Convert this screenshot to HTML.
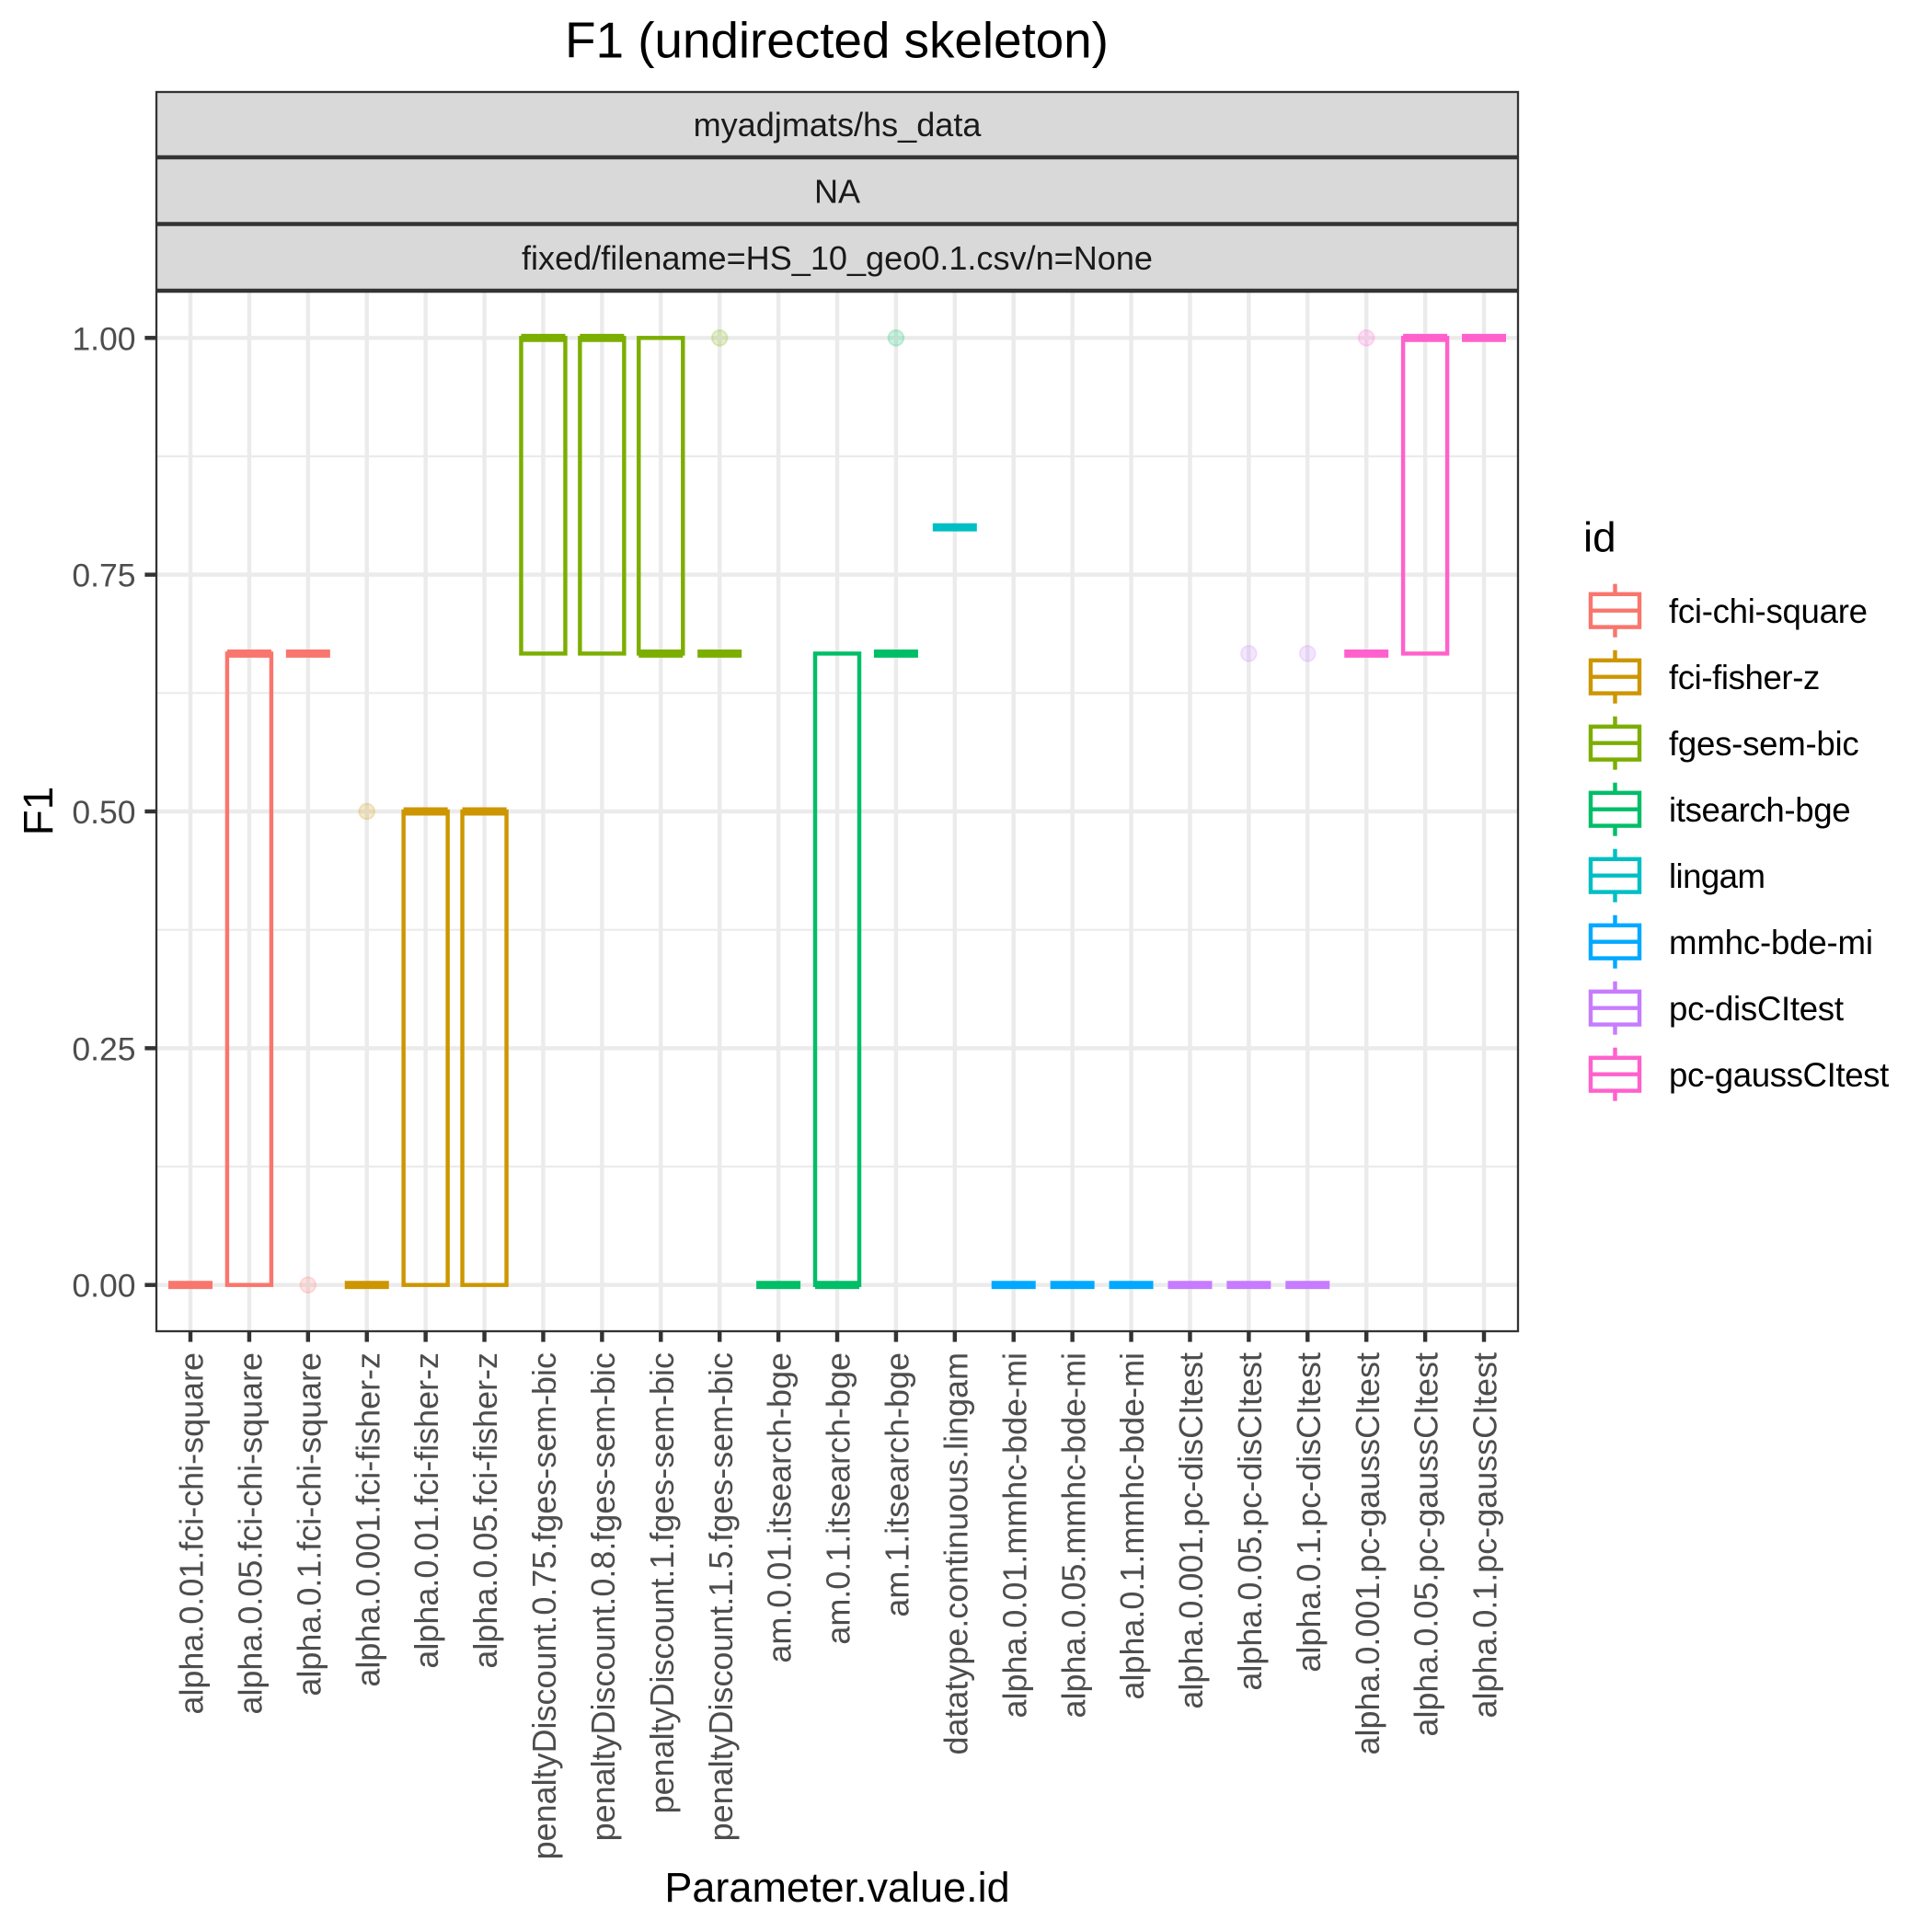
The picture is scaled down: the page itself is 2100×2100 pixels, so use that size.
<!DOCTYPE html>
<html lang="en">
<head>
<meta charset="utf-8">
<title>F1 (undirected skeleton)</title>
<style>
html,body{margin:0;padding:0;background:#fff}
svg{display:block;font-family:"Liberation Sans",Arial,sans-serif}
</style>
</head>
<body>
<svg id="chart" xmlns="http://www.w3.org/2000/svg" width="2100" height="2100" viewBox="0 0 2100 2100">
  <rect x="0" y="0" width="2100" height="2100" fill="#ffffff"/>
  <text x="909.5" y="62.7" font-size="55" text-anchor="middle" fill="#000" textLength="591">F1 (undirected skeleton)</text>

  <g id="grid"></g>
  <g id="marks"></g>

  <g>
    <rect x="170" y="100" width="1480" height="71.5" fill="#d9d9d9"/>
    <rect x="170" y="171.5" width="1480" height="72" fill="#d9d9d9"/>
    <rect x="170" y="243.5" width="1480" height="72.5" fill="#d9d9d9"/>
    <line x1="169" x2="1651" y1="171" y2="171" stroke="#333" stroke-width="4.4"/>
    <line x1="169" x2="1651" y1="243.5" y2="243.5" stroke="#333" stroke-width="4.4"/>
    <line x1="169" x2="1651" y1="316" y2="316" stroke="#333" stroke-width="4.4"/>
    <text x="910" y="148" font-size="36.1" text-anchor="middle" fill="#1a1a1a">myadjmats/hs_data</text>
    <text x="910" y="220.5" font-size="36.1" text-anchor="middle" fill="#1a1a1a">NA</text>
    <text x="910" y="293" font-size="36.1" text-anchor="middle" fill="#1a1a1a">fixed/filename=HS_10_geo0.1.csv/n=None</text>
  </g>

  <rect x="170" y="100" width="1480" height="1347" fill="none" stroke="#333" stroke-width="2.3"/>

  <g id="axes"></g>

  <text transform="translate(57,881.5) rotate(-90)" font-size="45.8" text-anchor="middle" fill="#000">F1</text>
  <text x="910" y="2067" font-size="45" text-anchor="middle" fill="#000">Parameter.value.id</text>

  <g>
    <text x="1721" y="599.3" font-size="45.8" fill="#000">id</text>
    <g id="legend-keys"></g>
    <g font-size="36.67" fill="#000">
      <text x="1814" y="677" textLength="216">fci-chi-square</text>
      <text x="1814" y="749" textLength="164.3">fci-fisher-z</text>
      <text x="1814" y="821" textLength="206.7">fges-sem-bic</text>
      <text x="1814" y="893" textLength="197.7">itsearch-bge</text>
      <text x="1814" y="965" textLength="105">lingam</text>
      <text x="1814" y="1037" textLength="222">mmhc-bde-mi</text>
      <text x="1814" y="1109" textLength="190">pc-disCItest</text>
      <text x="1814" y="1181" textLength="239.3">pc-gaussCItest</text>
    </g>
  </g>
</svg>
<script>
const categories = ["alpha.0.01.fci-chi-square","alpha.0.05.fci-chi-square","alpha.0.1.fci-chi-square","alpha.0.001.fci-fisher-z","alpha.0.01.fci-fisher-z","alpha.0.05.fci-fisher-z","penaltyDiscount.0.75.fges-sem-bic","penaltyDiscount.0.8.fges-sem-bic","penaltyDiscount.1.fges-sem-bic","penaltyDiscount.1.5.fges-sem-bic","am.0.01.itsearch-bge","am.0.1.itsearch-bge","am.1.itsearch-bge","datatype.continuous.lingam","alpha.0.01.mmhc-bde-mi","alpha.0.05.mmhc-bde-mi","alpha.0.1.mmhc-bde-mi","alpha.0.001.pc-disCItest","alpha.0.05.pc-disCItest","alpha.0.1.pc-disCItest","alpha.0.001.pc-gaussCItest","alpha.0.05.pc-gaussCItest","alpha.0.1.pc-gaussCItest"];
const groupIds = ["fci-chi-square","fci-chi-square","fci-chi-square","fci-fisher-z","fci-fisher-z","fci-fisher-z","fges-sem-bic","fges-sem-bic","fges-sem-bic","fges-sem-bic","itsearch-bge","itsearch-bge","itsearch-bge","lingam","mmhc-bde-mi","mmhc-bde-mi","mmhc-bde-mi","pc-disCItest","pc-disCItest","pc-disCItest","pc-gaussCItest","pc-gaussCItest","pc-gaussCItest"];
const lowerQuartile = [0,0,0.6667,0,0,0,0.6667,0.6667,0.6667,0.6667,0,0,0.6667,0.8,0,0,0,0,0,0,0.6667,0.6667,1];
const medians = [0,0.6667,0.6667,0,0.5,0.5,1,1,0.6667,0.6667,0,0,0.6667,0.8,0,0,0,0,0,0,0.6667,1,1];
const upperQuartile = [0,0.6667,0.6667,0,0.5,0.5,1,1,1,0.6667,0,0.6667,0.6667,0.8,0,0,0,0,0,0,0.6667,1,1];
const outliers = [null,null,0,0.5,null,null,null,null,null,1,null,null,1,null,null,null,null,null,0.6667,0.6667,1,null,null];
const yTicks = [0,0.25,0.5,0.75,1];
const yTickLabels = ["0.00","0.25","0.50","0.75","1.00"];
const yMinorTicks = [0.125,0.375,0.625,0.875];
const legendGroups = ["fci-chi-square","fci-fisher-z","fges-sem-bic","itsearch-bge","lingam","mmhc-bde-mi","pc-disCItest","pc-gaussCItest"];
const groupColors = ["#F8766D","#CD9600","#7CAE00","#00BE67","#00BFC4","#00A9FF","#C77CFF","#FF61CC"];

const NS = "http://www.w3.org/2000/svg";
const LW = 4.44;
const xScale = function (i) { return 207 + 63.91 * i; };
const yScale = function (v) { return 1396.7 - 1029.4 * v; };
const colorOf = function (id) { return groupColors[legendGroups.indexOf(id)]; };
const PANEL = { left: 170, right: 1650, top: 316, bottom: 1447 };

function make(parent, tag, attrs) {
  const el = document.createElementNS(NS, tag);
  for (const k in attrs) el.setAttribute(k, attrs[k]);
  parent.appendChild(el);
  return el;
}

const grid = document.getElementById("grid");
const marks = document.getElementById("marks");
const axes = document.getElementById("axes");
const legendKeys = document.getElementById("legend-keys");

const panelBg = make(grid, "rect", { x: PANEL.left, y: PANEL.top, width: PANEL.right - PANEL.left, height: PANEL.bottom - PANEL.top, fill: "#fff" });



yMinorTicks.forEach(function (v) {
  const l = make(grid, "line", { x1: PANEL.left, x2: PANEL.right, y1: yScale(v), y2: yScale(v), stroke: "#ebebeb", "stroke-width": LW / 2 });
  
  
});
yTicks.forEach(function (v) {
  const l = make(grid, "line", { x1: PANEL.left, x2: PANEL.right, y1: yScale(v), y2: yScale(v), stroke: "#ebebeb", "stroke-width": LW });
  
  
});
categories.forEach(function (c, i) {
  const l = make(grid, "line", { x1: xScale(i), x2: xScale(i), y1: PANEL.top, y2: PANEL.bottom, stroke: "#ebebeb", "stroke-width": LW });
  
  
});

categories.forEach(function (c, i) {
  const col = colorOf(groupIds[i]);
  const cx = xScale(i);
  const g = make(marks, "g", {});
  
  
  if (outliers[i] !== null) {
    const p = make(g, "circle", { cx: cx, cy: yScale(outliers[i]), r: 8.4, fill: col, "fill-opacity": 0.2, stroke: col, "stroke-opacity": 0.2, "stroke-width": 2 });
    
    
  }
  const top = yScale(upperQuartile[i]);
  const bot = yScale(lowerQuartile[i]);
  if (bot - top > 0.01) {
    const r = make(g, "rect", { x: cx - 24, y: top, width: 48, height: bot - top, fill: "none", stroke: col, "stroke-width": LW });
    
    
  }
  const m = make(g, "line", { x1: cx - 24, x2: cx + 24, y1: yScale(medians[i]), y2: yScale(medians[i]), stroke: col, "stroke-width": LW * 2 });
  
  
});

yTicks.forEach(function (v, i) {
  const t = make(axes, "line", { x1: 157.4, x2: 169, y1: yScale(v), y2: yScale(v), stroke: "#333", "stroke-width": LW });
  
  
  const s = make(axes, "text", { x: 147.5, y: yScale(v) + 13, "text-anchor": "end", "font-size": 35.5, fill: "#4d4d4d" });
  s.textContent = yTickLabels[i];
  
  
});
categories.forEach(function (c, i) {
  const t = make(axes, "line", { x1: xScale(i), x2: xScale(i), y1: 1448, y2: 1458.6, stroke: "#333", "stroke-width": LW });
  
  
  const s = make(axes, "text", { transform: "translate(" + (xScale(i) + 13.6) + ",1470) rotate(-90)", "text-anchor": "end", "font-size": 35.95, fill: "#4d4d4d" });
  s.textContent = c;
  
  
});

legendGroups.forEach(function (id, i) {
  const cy = 663.7 + 72 * i;
  const col = groupColors[i];
  const g = make(legendKeys, "g", { stroke: col, "stroke-width": LW, fill: "none" });
  
  
  make(g, "rect", { x: 1729, y: cy - 17.9, width: 53, height: 35.8 });
  make(g, "line", { x1: 1729, x2: 1782, y1: cy, y2: cy });
  make(g, "line", { x1: 1755.5, x2: 1755.5, y1: cy - 29, y2: cy - 17.9 });
  make(g, "line", { x1: 1755.5, x2: 1755.5, y1: cy + 17.9, y2: cy + 29 });
});
</script>
</body>
</html>
